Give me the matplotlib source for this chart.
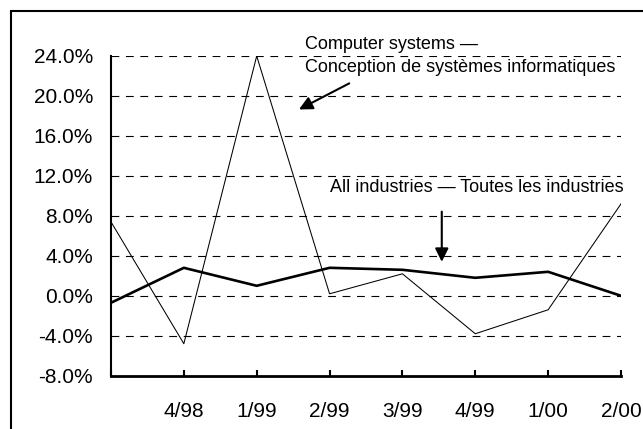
"""Quarterly growth: computer systems design vs. all industries."""

import matplotlib

matplotlib.use("Agg")
import matplotlib.pyplot as plt
from matplotlib.patches import Rectangle

plt.rcParams["font.family"] = ["Liberation Sans", "DejaVu Sans"]

quarters = ["", "4/98", "1/99", "2/99", "3/99", "4/99", "1/00", "2/00"]
computer_systems = [7.4, -4.8, 24.0, 0.2, 2.2, -3.8, -1.4, 9.2]
all_industries = [-0.7, 2.8, 1.0, 2.8, 2.6, 1.8, 2.4, 0.0]
y_ticks = [-8, -4, 0, 4, 8, 12, 16, 20, 24]

fig = plt.figure(figsize=(6.43, 4.29), dpi=100)
ax = fig.add_axes([0.1726, 0.1242, 0.7932, 0.7453])

x = list(range(len(quarters)))

# dashed horizontal grid, drawn by hand so it stops at the last category
for v in y_ticks[1:]:
    ax.plot([x[0], x[-1]], [v, v], color="black", lw=0.8,
            linestyle=(0, (7, 6)), zorder=1)

ax.plot(x, computer_systems, color="black", lw=0.75, zorder=3)
ax.plot(x, all_industries, color="black", lw=1.9, zorder=4)

ax.set_xlim(x[0], x[-1])
ax.set_ylim(-8, 24)
ax.set_xticks(x)
ax.set_xticklabels(quarters)
ax.set_yticks(y_ticks)
ax.set_yticklabels([f"{v:.1f}%" for v in y_ticks])

ax.tick_params(axis="x", direction="in", length=4, width=1.5,
               pad=19, labelsize=15)
ax.tick_params(axis="y", length=0, pad=13, labelsize=15)
for side in ("top", "right"):
    ax.spines[side].set_visible(False)
ax.spines["left"].set_linewidth(1.5)
ax.spines["bottom"].set_linewidth(2.0)

# series labels with pointer arrows
ax.text(2.66, 25.17, "Computer systems \u2014", fontsize=13,
        ha="left", va="center")
ax.text(2.66, 22.86, "Conception de syst\u00e8mes informatiques", fontsize=13,
        ha="left", va="center")
ax.annotate("", xy=(2.58, 18.65), xytext=(3.27, 21.26),
            arrowprops=dict(arrowstyle="-|>", color="black", lw=1.5,
                            mutation_scale=20, shrinkA=0, shrinkB=0))

ax.text(3.0, 10.83, "All industries \u2014 Toutes les industries", fontsize=13,
        ha="left", va="center")
ax.annotate("", xy=(4.54, 3.4), xytext=(4.54, 8.42),
            arrowprops=dict(arrowstyle="-|>", color="black", lw=1.5,
                            mutation_scale=20, shrinkA=0, shrinkB=0))

# outer chart border (runs off the right and bottom edges)
fig.patches.append(Rectangle((11 / 643, -0.5), 2.0, 0.5 + 1 - 11 / 429,
                             transform=fig.transFigure, fill=False,
                             edgecolor="black", lw=1.5))

fig.savefig("out.png", dpi=100)
plt.close(fig)
